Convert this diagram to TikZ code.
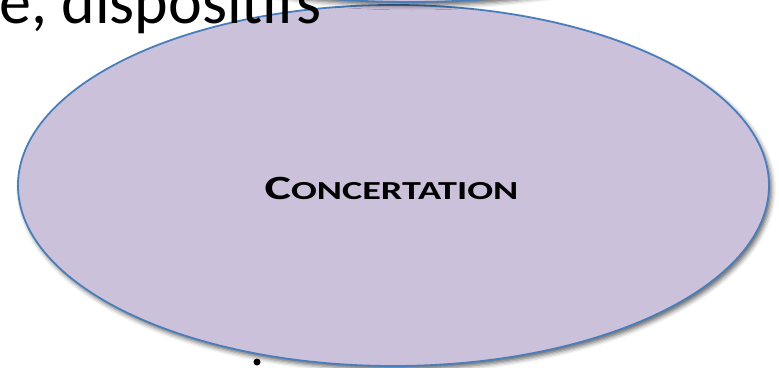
\documentclass[tikz,border=0pt]{standalone}
\usepackage{fontspec}
\setmainfont{Carlito}
\usetikzlibrary{shapes.geometric,shadows.blur}
\definecolor{lav}{HTML}{CCC1DA}
\definecolor{edgeblue}{HTML}{4A7EBB}
\tikzset{
  bubble/.style={ellipse, draw=edgeblue, line width=1.8pt, fill=lav, inner sep=0pt,
    blur shadow={shadow xshift=2.5pt, shadow yshift=-3.5pt, shadow blur radius=4.5pt, shadow opacity=60}},
  bigtext/.style={font=\fontsize{64}{70}\selectfont, inner sep=0pt, anchor=base west, text=black},
  label/.style={font=\bfseries, inner sep=0pt, text=black}
}
\begin{document}
\begin{tikzpicture}[x=1pt,y=-1pt]
\useasboundingbox (0,0) rectangle (779,367);
\node[bubble, minimum width=751pt, minimum height=361pt] (main) at (393.5,185.5) {};
\node[bubble, minimum width=700pt, minimum height=240pt] (upper) at (410,-118) {};
\node[bigtext] (top) at (-1,23) {e, dispositifs};
\node[label] (title) at (391.5,188) {\scalebox{1.47}[1]{\fontsize{34}{40}\selectfont C\fontsize{26}{30}\selectfont ONCERTATION}};
\node[circle, fill=black, inner sep=0pt, minimum size=7pt] (dot) at (257,362) {};
\end{tikzpicture}
\end{document}
